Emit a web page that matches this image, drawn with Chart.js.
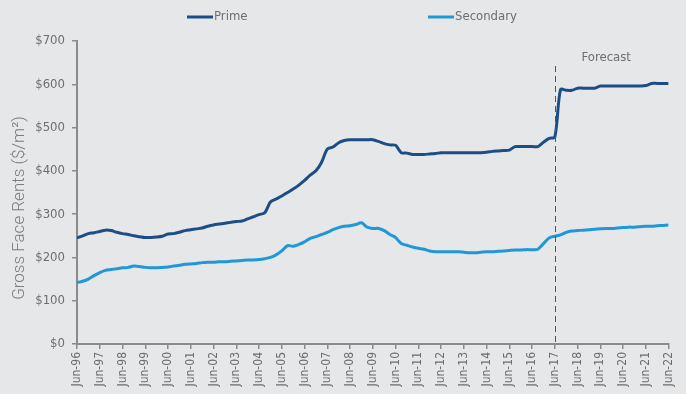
<!DOCTYPE html>
<html>
<head>
<meta charset="utf-8">
<script src="https://cdn.jsdelivr.net/npm/chart.js@4.4.0/dist/chart.umd.min.js"></script>
<style>
  html, body { margin: 0; padding: 0; background: #e6e7e9; }
  canvas { display: block; }
</style>
</head>
<body>
<canvas id="rentChart" width="686" height="394"></canvas>
<script>
// yearly tick labels (every 4th quarter)
const yearLabels = [
  'Jun-96', 'Jun-97', 'Jun-98', 'Jun-99', 'Jun-00', 'Jun-01', 'Jun-02', 'Jun-03', 'Jun-04',
  'Jun-05', 'Jun-06', 'Jun-07', 'Jun-08', 'Jun-09', 'Jun-10', 'Jun-11', 'Jun-12', 'Jun-13',
  'Jun-14', 'Jun-15', 'Jun-16', 'Jun-17', 'Jun-18', 'Jun-19', 'Jun-20', 'Jun-21', 'Jun-22'
];

// quarterly gross face rents, $/m2, from Jun-96 to Jun-22
const prime = [
  245, 250, 255, 257,   260, 263, 262, 258,   255, 253, 250, 248,   246, 246, 247, 249,
  254, 255, 258, 262,   264, 266, 268, 272,   275, 277, 279, 281,   283, 284, 289, 294,
  299, 303, 328, 335,   342, 350, 358, 367,   378, 390, 400, 420,   450, 455, 465, 470,
  472, 472, 472, 472,   472, 468, 463, 460,   459, 442, 441, 438,   438, 438, 439, 440,
  442, 442, 442, 442,   442, 442, 442, 442,   443, 445, 446, 447,   448, 456, 456, 456,
  456, 456, 466, 475,   478, 588, 586, 586,   591, 591, 591, 591,   596, 596, 596, 596,
  596, 596, 596, 596,   597, 602, 602, 602,   602
];
const secondary = [
  142, 145, 150, 158,   165, 170, 172, 174,   176, 177, 180, 179,   177, 176, 176, 177,
  178, 180, 182, 184,   185, 186, 188, 189,   189, 190, 190, 191,   192, 193, 194, 194,
  195, 197, 200, 206,   215, 227, 226, 230,   236, 244, 248, 253,   258, 264, 269, 272,
  273, 276, 280, 270,   267, 267, 262, 253,   246, 232, 228, 224,   221, 219, 215, 213,
  213, 213, 213, 213,   212, 211, 211, 212,   213, 213, 214, 215,   216, 217, 217, 218,
  218, 219, 232, 245,   249, 252, 258, 261,   262, 263, 264, 265,   266, 267, 267, 268,
  269, 270, 270, 271,   272, 272, 273, 274,   275
];

const forecastFrom = 'Jun-17';
const yTitle = 'Gross Face Rents ($/m\u00b2)';

const textGrey = '#6d6e71';
const axisGrey = '#8a8b8d';
const narrow = '"Liberation Sans Narrow", "DejaVu Sans Condensed", Roboto, sans-serif';

const toPoints = (arr) => arr.map((v, i) => ({ x: i, y: v }));

// legend drawn across the top, items spread out
const topLegend = {
  id: 'topLegend',
  afterDraw(chart, args, opts) {
    const ctx = chart.ctx;
    chart.data.datasets.forEach((ds, i) => {
      const x = opts.starts[i];
      const y = opts.y;
      ctx.save();
      ctx.strokeStyle = ds.borderColor;
      ctx.lineWidth = 3;
      ctx.beginPath();
      ctx.moveTo(x, y);
      ctx.lineTo(x + 26, y);
      ctx.stroke();
      ctx.fillStyle = textGrey;
      ctx.font = '13px ' + narrow;
      ctx.textBaseline = 'middle';
      ctx.fillText(ds.label, x + 27, y);
      ctx.restore();
    });
  }
};

// rotated y-axis title, sits a little below the axis centre
const sideTitle = {
  id: 'sideTitle',
  afterDraw(chart, args, opts) {
    const ctx = chart.ctx;
    ctx.save();
    ctx.translate(opts.x, opts.y);
    ctx.rotate(-Math.PI / 2);
    ctx.fillStyle = '#7a7b7e';
    ctx.font = '300 17px Roboto, "Open Sans", sans-serif';
    ctx.textAlign = 'center';
    ctx.textBaseline = 'middle';
    ctx.fillText(yTitle, 0, 0);
    ctx.restore();
  }
};

// dashed marker where the forecast starts
const forecastLine = {
  id: 'forecastLine',
  afterDatasetsDraw(chart) {
    const { ctx, chartArea, scales } = chart;
    const x = Math.round(scales.x.getPixelForValue(yearLabels.indexOf(forecastFrom) * 4)) + 0.5;
    ctx.save();
    ctx.strokeStyle = '#555';
    ctx.lineWidth = 1;
    ctx.setLineDash([6, 4]);
    ctx.beginPath();
    ctx.moveTo(x, chartArea.top + 25);
    ctx.lineTo(x, chartArea.bottom);
    ctx.stroke();
    ctx.setLineDash([]);
    ctx.fillStyle = textGrey;
    ctx.font = '13px ' + narrow;
    ctx.textAlign = 'left';
    ctx.textBaseline = 'middle';
    ctx.fillText('Forecast', x + 26, chartArea.top + 17);
    ctx.restore();
  }
};

new Chart(document.getElementById('rentChart').getContext('2d'), {
  type: 'line',
  data: {
    datasets: [
      {
        label: 'Prime',
        data: toPoints(prime),
        borderColor: '#1c4d87',
        borderWidth: 3,
        pointRadius: 0,
        tension: 0.3
      },
      {
        label: 'Secondary',
        data: toPoints(secondary),
        borderColor: '#1f98d5',
        borderWidth: 3,
        pointRadius: 0,
        tension: 0.3
      }
    ]
  },
  options: {
    responsive: false,
    animation: false,
    layout: { padding: { top: 41, right: 15, left: 0, bottom: 0 } },
    plugins: {
      legend: { display: false },
      tooltip: { enabled: false },
      topLegend: { starts: [187, 428], y: 17 },
      sideTitle: { x: 20, y: 208 }
    },
    scales: {
      x: {
        type: 'linear',
        min: 0,
        max: (yearLabels.length - 1) * 4,
        border: { color: axisGrey, width: 2 },
        grid: { drawOnChartArea: false, color: axisGrey, tickLength: 5, lineWidth: 1.5 },
        ticks: {
          stepSize: 4,
          autoSkip: false,
          minRotation: 90,
          maxRotation: 90,
          padding: 3,
          color: textGrey,
          font: { family: narrow, size: 12 },
          callback: (v) => yearLabels[v / 4]
        },
        afterFit: (scale) => { scale.height = 50; }
      },
      y: {
        min: 0,
        max: 700,
        border: { color: axisGrey, width: 2 },
        grid: { drawOnChartArea: false, color: axisGrey, tickLength: 5, lineWidth: 1.5 },
        ticks: {
          stepSize: 100,
          padding: 7,
          color: textGrey,
          font: { family: narrow, size: 13 },
          callback: (v) => '$' + v
        },
        afterFit: (scale) => { scale.width = 77; }
      }
    }
  },
  plugins: [topLegend, sideTitle, forecastLine]
});
</script>
</body>
</html>
